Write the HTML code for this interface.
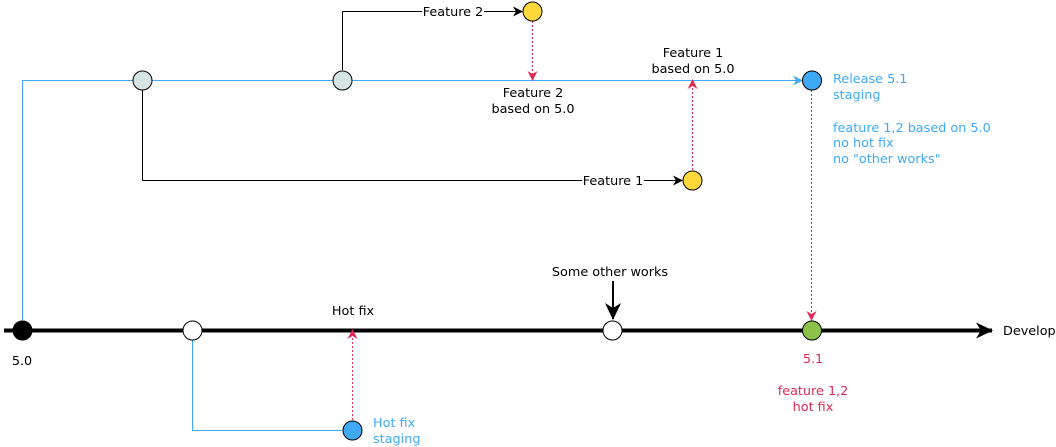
<!DOCTYPE html>
<html><head><meta charset="utf-8"><style>
html,body{margin:0;padding:0;background:#fff;}
svg{display:block;}
text{font-family:"DejaVu Sans","Liberation Sans",sans-serif;font-size:12.8px;}
</style></head><body>
<svg width="1056" height="447" viewBox="0 0 1056 447" xmlns="http://www.w3.org/2000/svg" font-family="DejaVu Sans, Liberation Sans, sans-serif" font-size="12.8">
<defs>
<marker id="ab" markerWidth="10" markerHeight="10" refX="9" refY="5" orient="auto" markerUnits="userSpaceOnUse"><path d="M0,0 L10,5 L0,10 L3,5 Z" fill="#000"/></marker>
<marker id="ar" markerWidth="10" markerHeight="10" refX="9" refY="5" orient="auto" markerUnits="userSpaceOnUse"><path d="M0,0 L10,5 L0,10 L3,5 Z" fill="#dd2b55"/></marker>
<marker id="abl" markerWidth="10" markerHeight="10" refX="9" refY="5" orient="auto" markerUnits="userSpaceOnUse"><path d="M0,0 L10,5 L0,10 L3,5 Z" fill="#3fa9f5"/></marker>
<marker id="big" markerWidth="18" markerHeight="16" refX="16" refY="8" orient="auto" markerUnits="userSpaceOnUse"><path d="M0,0 L17,8 L0,16 L5,8 Z" fill="#000"/></marker>
</defs>
<line x1="4" y1="330.5" x2="992" y2="330.5" stroke="#000" stroke-width="4" marker-end="url(#big)"/>
<polyline points="22.5,320 22.5,80.5 802,80.5" fill="none" stroke="#3fa9f5" stroke-width="1" marker-end="url(#abl)"/>
<polyline points="192.5,340 192.5,430.5 342,430.5" fill="none" stroke="#3fa9f5" stroke-width="1"/>
<polyline points="342.5,70 342.5,11.5 522,11.5" fill="none" stroke="#000" marker-end="url(#ab)"/>
<polyline points="142.5,90 142.5,180.5 682,180.5" fill="none" stroke="#000" marker-end="url(#ab)"/>
<rect x="422" y="4" width="62" height="14" fill="#fff"/>
<text x="453" y="16" text-anchor="middle" fill="#000">Feature 2</text>
<rect x="582" y="173" width="62" height="14" fill="#fff"/>
<text x="613" y="185" text-anchor="middle" fill="#000">Feature 1</text>
<g stroke="#dd2b55" stroke-dasharray="2,2" fill="none">
<line x1="532.5" y1="21" x2="532.5" y2="80" marker-end="url(#ar)"/>
<line x1="692.5" y1="170" x2="692.5" y2="80" marker-end="url(#ar)"/>
<line x1="811.5" y1="90" x2="811.5" y2="320" marker-end="url(#ar)"/>
<line x1="352.5" y1="420" x2="352.5" y2="330" marker-end="url(#ar)"/>
</g>
<line x1="613" y1="281" x2="613" y2="319" stroke="#000" stroke-width="2" marker-end="url(#big)"/>
<g stroke="#000" stroke-width="1">
<circle cx="22.5" cy="330.5" r="9.5" fill="#000"/>
<circle cx="192.5" cy="330.5" r="9.5" fill="#fff"/>
<circle cx="612.5" cy="330.5" r="9.5" fill="#fff"/>
<circle cx="812" cy="330.5" r="9.5" fill="#8bc34a"/>
<circle cx="142.5" cy="80.5" r="9.5" fill="#d6e4e3"/>
<circle cx="342.5" cy="80.5" r="9.5" fill="#d6e4e3"/>
<circle cx="812" cy="80.5" r="9.5" fill="#3fa9f5"/>
<circle cx="532.5" cy="11.5" r="9.5" fill="#ffd83b"/>
<circle cx="692.5" cy="180.5" r="9.5" fill="#ffd83b"/>
<circle cx="352.5" cy="430.5" r="9.5" fill="#3fa9f5"/>
</g>
<g fill="#000">
<text x="533" y="97" text-anchor="middle">Feature 2</text>
<text x="533" y="113" text-anchor="middle">based on 5.0</text>
<text x="693" y="57" text-anchor="middle">Feature 1</text>
<text x="693" y="73" text-anchor="middle">based on 5.0</text>
<text x="610" y="276" text-anchor="middle">Some other works</text>
<text x="353" y="315" text-anchor="middle">Hot fix</text>
<text x="22" y="365" text-anchor="middle">5.0</text>
<text x="1003" y="335">Develop</text>
</g>
<g fill="#3fa9f5">
<text x="833" y="83">Release 5.1</text>
<text x="833" y="99">staging</text>
<text x="833" y="132">feature 1,2 based on 5.0</text>
<text x="833" y="147">no hot fix</text>
<text x="833" y="163">no "other works"</text>
<text x="373" y="427">Hot fix</text>
<text x="373" y="443">staging</text>
</g>
<g fill="#dd2b55" text-anchor="middle">
<text x="813" y="363">5.1</text>
<text x="813" y="395">feature 1,2</text>
<text x="813" y="411">hot fix</text>
</g>
</svg>
</body></html>
